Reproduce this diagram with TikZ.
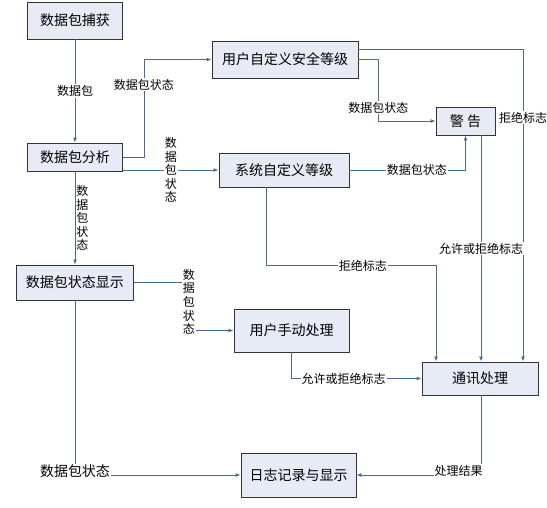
\documentclass[tikz,border=0pt]{standalone}
\usepackage{fontspec}
\usepackage{xcolor}
\usepackage{tikz}
\usetikzlibrary{arrows.meta,positioning}
\newfontfamily\cjk{Noto Sans CJK SC}
\definecolor{linkcol}{RGB}{79,106,143}
\definecolor{boxfill}{RGB}{230,235,245}
\tikzset{
  box/.style={draw=black!80, line width=0.9pt, fill=boxfill, inner sep=0pt,
    font=\cjk\fontsize{14}{16}\selectfont},
  link/.style={draw=linkcol, line width=0.9pt, -{Latex[length=5pt,width=4pt]}},
  lbl/.style={fill=white, inner sep=1pt, font=\cjk\fontsize{12}{13.6}\selectfont},
  vlbl/.style={lbl, align=center}
}
\begin{document}
\begin{tikzpicture}[x=1pt,y=-1pt]
% pixel grid of the 547x507 image, y grows downwards
\useasboundingbox (0,0) rectangle (547,507);
% boxes
\node[box, minimum width=95, minimum height=37] (capture) at (75,20.5) {数据包捕获};
\node[box, minimum width=146, minimum height=37] (usrsec) at (285,59.5) {用户自定义安全等级};
\node[box, minimum width=95, minimum height=28] (analyze) at (75,157) {数据包分析};
\node[box, minimum width=130, minimum height=34] (syslvl) at (284,170) {系统自定义等级};
\node[box, minimum width=59, minimum height=28] (warn) at (465.5,121) {警\ 告};
\node[box, minimum width=117, minimum height=35] (showst) at (75,282.5) {数据包状态显示};
\node[box, minimum width=115, minimum height=43] (manual) at (291.5,330.5) {用户手动处理};
\node[box, minimum width=116, minimum height=33] (comm) at (480,378.5) {通讯处理};
\node[box, minimum width=115, minimum height=44] (log) at (298.5,475) {日志记录与显示};
% left column
\draw[link] (capture) -- node[lbl] {数据包} (analyze);
\draw[link] (analyze) -- node[vlbl, right, fill=none] {数\\据\\包\\状\\态} (showst);
\draw[link] (showst.south) |- node[lbl, yshift=4, font=\cjk\fontsize{14}{16}\selectfont] {数据包状态} (log.west);
% from packet analysis
\draw[link] (analyze.east) -- ++(21,0) |- node[lbl, pos=0.37] {数据包状态} (usrsec.west);
\draw[link] (analyze.east |- syslvl.west) -- node[vlbl] {数\\据\\包\\状\\态} (syslvl.west);
% security levels to warning and communication
\draw[link] (usrsec.east) -- ++(20,0) |- node[lbl, pos=0.39] {数据包状态} (warn.west);
\draw[link] ([yshift=10.5]usrsec.east) -| node[lbl, pos=0.61] {拒绝标志} ([xshift=43]comm.north);
\draw[link] (syslvl.east) -| node[lbl, pos=0.29] {数据包状态} (warn.south);
\draw[link] ([xshift=-18]syslvl.south) -- ++(0,78) -| node[lbl, pos=0.285] {拒绝标志} ([xshift=-44]comm.north);
\draw[link] ([xshift=15.5]warn.south) -- node[lbl] {允许或拒绝标志} ([xshift=15.5]warn.south |- comm.north);
% manual handling
\draw[link] (showst.east) -- ++(55,0) |- node[vlbl, pos=0.2] {数\\据\\包\\状\\态} (manual.west);
\draw[link] (manual.south) |- node[lbl, pos=0.7] {允许或拒绝标志} (comm.west);
% result to log
\draw[link] ([xshift=1]comm.south) |- node[lbl, pos=0.59, yshift=4] {处理结果} (log.east);
\end{tikzpicture}
\end{document}
